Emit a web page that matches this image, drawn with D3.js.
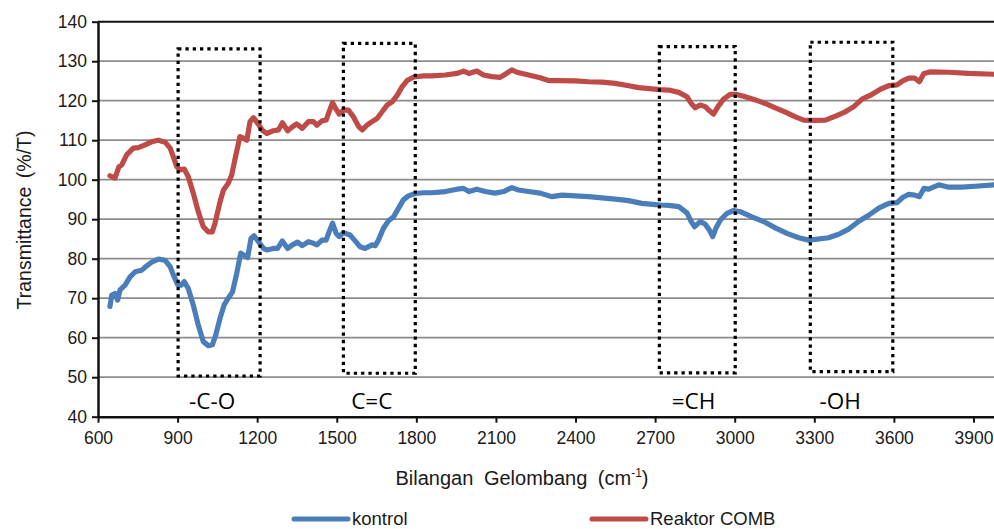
<!DOCTYPE html>
<html>
<head>
<meta charset="utf-8">
<script src="https://cdn.jsdelivr.net/npm/d3@7"></script>
<style>
  body { margin: 0; background: #fff; }
  .tick text { font-family: "Liberation Sans", Arial, sans-serif; font-size: 17.5px; fill: #1a1a1a; }
</style>
</head>
<body>
<div class="chart"></div>
<script>
// kontrol series (blue)
var kontrolWave = [645, 652, 664, 674, 683, 702, 721, 740, 765, 784, 802, 827, 853, 872, 884, 900, 913, 925, 940, 959,
  978, 997, 1016, 1031, 1044, 1060, 1076, 1091, 1107, 1123, 1138, 1152, 1164, 1177, 1188, 1205, 1224, 1236, 1261, 1277,
  1295, 1315, 1333, 1352, 1370, 1393, 1412, 1425, 1444, 1460, 1471, 1484, 1498, 1509, 1525, 1550, 1567, 1588, 1607, 1633,
  1645, 1657, 1676, 1695, 1714, 1733, 1751, 1770, 1796, 1827, 1858, 1909, 1953, 1978, 1998, 2028, 2060, 2097, 2129, 2160,
  2185, 2223, 2267, 2311, 2349, 2399, 2449, 2500, 2550, 2600, 2650, 2701, 2720, 2751, 2789, 2820, 2836, 2849, 2870, 2889,
  2904, 2917, 2929, 2946, 2971, 2996, 3021, 3065, 3109, 3153, 3197, 3241, 3279, 3304, 3354, 3392, 3430, 3468, 3505, 3543,
  3581, 3612, 3633, 3656, 3679, 3696, 3713, 3731, 3769, 3807, 3857, 3920, 3977, 4000];
var kontrolT = [67.9, 70.8, 71.2, 69.5, 72.1, 73.3, 75.4, 76.7, 77.1, 78.2, 79.1, 79.9, 79.6, 78.0, 75.9, 73.5, 73.3, 74.2, 72.5, 68.3,
  63.2, 59.0, 58.0, 58.2, 60.7, 64.9, 68.4, 70.0, 71.6, 76.3, 81.4, 80.8, 80.3, 85.2, 85.8, 84.3, 82.6, 82.2, 82.6, 82.6,
  84.5, 82.6, 83.5, 84.2, 83.3, 84.3, 83.9, 83.5, 84.7, 84.7, 86.8, 89.0, 86.4, 85.6, 86.6, 86.0, 84.7, 83.0, 82.6, 83.5,
  83.3, 84.7, 87.7, 89.6, 90.6, 92.8, 94.9, 95.9, 96.5, 96.7, 96.7, 97.0, 97.6, 97.8, 97.0, 97.6, 97.0, 96.6, 97.0, 98.0,
  97.4, 97.0, 96.6, 95.7, 96.1, 95.9, 95.7, 95.4, 95.1, 94.7, 94.0, 93.7, 93.6, 93.5, 93.2, 91.6, 89.4, 88.1, 89.4, 88.7,
  87.3, 85.6, 87.7, 89.8, 91.5, 92.2, 91.9, 90.6, 89.4, 87.8, 86.4, 85.3, 84.7, 84.9, 85.3, 86.2, 87.5, 89.5, 91.0, 92.8,
  94.0, 94.2, 95.5, 96.3, 96.1, 95.7, 97.8, 97.6, 98.7, 98.1, 98.1, 98.4, 98.7, 98.6];

// Reaktor COMB series (red)
var reaktorWave = [645, 664, 679, 689, 708, 733, 752, 777, 802, 827, 853, 872, 884, 897, 909, 925, 940, 959, 978, 997,
  1016, 1031, 1041, 1060, 1073, 1091, 1104, 1117, 1135, 1148, 1161, 1173, 1186, 1205, 1220, 1236, 1261, 1280, 1295, 1315,
  1333, 1349, 1370, 1393, 1412, 1425, 1444, 1460, 1469, 1484, 1498, 1509, 1525, 1544, 1563, 1583, 1596, 1614, 1633, 1652,
  1671, 1690, 1709, 1728, 1746, 1765, 1790, 1827, 1858, 1909, 1953, 1978, 1998, 2028, 2053, 2085, 2116, 2135, 2160, 2179,
  2223, 2267, 2298, 2336, 2399, 2449, 2500, 2550, 2600, 2638, 2688, 2720, 2751, 2789, 2820, 2836, 2851, 2870, 2889, 2904,
  2920, 2937, 2958, 2983, 3008, 3040, 3078, 3115, 3153, 3191, 3229, 3260, 3300, 3342, 3380, 3417, 3449, 3480, 3512, 3549,
  3581, 3612, 3633, 3656, 3679, 3696, 3713, 3738, 3807, 3882, 3977, 4000];
var reaktorT = [101.0, 100.4, 103.3, 103.7, 106.3, 108.0, 108.1, 108.8, 109.6, 110.0, 109.5, 108.0, 105.8, 103.3, 102.5, 102.7, 100.8, 96.6, 91.9, 88.1,
  86.8, 86.8, 89.0, 94.4, 97.4, 99.1, 101.2, 105.4, 110.9, 110.5, 110.0, 114.7, 115.7, 114.0, 112.5, 111.7, 112.4, 112.6, 114.4, 112.4,
  113.4, 114.1, 113.0, 114.7, 114.7, 113.8, 114.9, 115.1, 116.8, 119.5, 117.8, 116.6, 117.6, 117.6, 115.9, 113.4, 112.6, 113.8, 114.7, 115.5,
  117.2, 118.9, 119.7, 121.4, 123.5, 125.1, 126.0, 126.3, 126.3, 126.5, 126.9, 127.5, 126.9, 127.5, 126.5, 126.1, 125.9, 126.7, 127.8, 127.2,
  126.5, 125.8, 125.1, 125.1, 125.0, 124.8, 124.7, 124.4, 123.8, 123.3, 123.0, 122.8, 122.7, 122.1, 121.0, 119.3, 118.2, 118.9, 118.5, 117.5,
  116.6, 118.5, 120.4, 121.6, 121.6, 121.0, 120.2, 119.3, 118.2, 117.1, 115.9, 115.1, 115.0, 115.1, 116.1, 117.2, 118.5, 120.4, 121.4, 122.9,
  123.8, 124.0, 125.0, 125.7, 125.7, 124.8, 126.9, 127.3, 127.2, 126.9, 126.7, 126.7];

// functional group regions (dotted boxes)
var groupLabels = ["-C-O", "C=C", "=CH", "-OH"];
var groupX0 = [902, 1525, 2716, 3285];
var groupX1 = [1211, 1796, 3002, 3596];
var groupTop = [133.1, 134.5, 133.7, 134.8];
var groupBottom = [50.3, 51.0, 51.1, 51.4];
var groupLabelX = [1030, 1632, 2845, 3398];

var xTicks = [600, 900, 1200, 1500, 1800, 2100, 2400, 2700, 3000, 3300, 3600, 3900];
var yTicks = [40, 50, 60, 70, 80, 90, 100, 110, 120, 130, 140];

var seriesNames = ["kontrol", "Reaktor COMB"];
var seriesColors = ["#4a7ebb", "#be4b48"];

var W = 994, H = 529;
var margin = {top: 21.7, right: 0, bottom: 112.3, left: 98};
var width = 902, height = H - margin.top - margin.bottom;

var xScale = d3.scaleLinear().domain([600, 4000]).range([0, width]);
var yScale = d3.scaleLinear().domain([40, 140]).range([height, 0]);

var root = d3.select(".chart").append("svg")
    .attr("width", W)
    .attr("height", H)
    .style("display", "block");

var svg = root.append("g")
    .attr("transform", "translate(" + margin.left + "," + margin.top + ")");

// gridlines
svg.append("g")
  .selectAll("line")
  .data(yTicks.filter(function(d) { return d > 40 && d < 140; }))
  .enter().append("line")
    .attr("x1", 0).attr("x2", width)
    .attr("y1", function(d) { return yScale(d); })
    .attr("y2", function(d) { return yScale(d); })
    .style("stroke", "#8c8c8c")
    .style("stroke-width", 1.8);

// top border
svg.append("line")
    .attr("x1", 0).attr("x2", width)
    .attr("y1", yScale(140)).attr("y2", yScale(140))
    .style("stroke", "#111").style("stroke-width", 2);

// x axis
var xAxis = svg.append("g")
    .attr("transform", "translate(0," + height + ")")
    .call(d3.axisBottom(xScale).tickValues(xTicks).tickSize(6).tickSizeOuter(0).tickFormat(d3.format("d")));
xAxis.select(".domain").style("stroke", "#111").style("stroke-width", 2.5);
xAxis.selectAll(".tick line").style("stroke", "#111").style("stroke-width", 2);
xAxis.selectAll(".tick text").attr("dy", "1.05em").attr("y", 9);

// y axis
var yAxis = svg.append("g")
    .call(d3.axisLeft(yScale).tickValues(yTicks).tickSize(6).tickSizeOuter(0));
yAxis.select(".domain").style("stroke", "#111").style("stroke-width", 2.5);
yAxis.selectAll(".tick line").style("stroke", "#111").style("stroke-width", 2);
yAxis.selectAll(".tick text").attr("x", -11);

// axis titles
var xTitle = root.append("text")
    .attr("x", 522)
    .attr("y", 485)
    .attr("text-anchor", "middle")
    .style("font-family", "Liberation Sans, Arial, sans-serif")
    .style("font-size", "20px")
    .style("word-spacing", "5px")
    .style("fill", "#1a1a1a");
xTitle.append("tspan").text("Bilangan Gelombang (cm");
xTitle.append("tspan").attr("dy", -8).style("font-size", "12px").text("-1");
xTitle.append("tspan").attr("dy", 8).text(")");

root.append("text")
    .attr("transform", "translate(31,220) rotate(-90)")
    .attr("text-anchor", "middle")
    .style("font-family", "Liberation Sans, Arial, sans-serif")
    .style("font-size", "19.5px")
    .style("word-spacing", "3px")
    .style("fill", "#1a1a1a")
    .text("Transmittance (%/T)");

// series lines
var line = d3.line()
    .x(function(d) { return xScale(d[0]); })
    .y(function(d) { return yScale(d[1]); });

var series = [d3.zip(kontrolWave, kontrolT), d3.zip(reaktorWave, reaktorT)];

svg.append("clipPath").attr("id", "plotclip")
  .append("rect").attr("x", 0).attr("y", -5).attr("width", width).attr("height", height + 10);

svg.append("g").attr("clip-path", "url(#plotclip)")
  .selectAll("path")
  .data(series)
  .enter().append("path")
    .attr("d", line)
    .style("fill", "none")
    .style("stroke", function(d, i) { return seriesColors[i]; })
    .style("stroke-width", 5.2)
    .style("stroke-linejoin", "round")
    .style("stroke-linecap", "round");

// dotted boxes + labels
var groups = groupLabels.map(function(lbl, i) {
  return {label: lbl, x0: groupX0[i], x1: groupX1[i], top: groupTop[i], bottom: groupBottom[i], lx: groupLabelX[i]};
});

svg.selectAll(".groupbox")
  .data(groups)
  .enter().append("rect")
    .attr("class", "groupbox")
    .attr("x", function(d) { return xScale(d.x0); })
    .attr("y", function(d) { return yScale(d.top); })
    .attr("width", function(d) { return xScale(d.x1) - xScale(d.x0); })
    .attr("height", function(d) { return yScale(d.bottom) - yScale(d.top); })
    .style("fill", "none")
    .style("stroke", "#000")
    .style("stroke-width", 3.2)
    .style("stroke-dasharray", "3.3 4");

svg.selectAll(".grouplabel")
  .data(groups)
  .enter().append("text")
    .attr("class", "grouplabel")
    .attr("x", function(d) { return xScale(d.lx); })
    .attr("y", yScale(44) + 8)
    .attr("text-anchor", "middle")
    .style("font-family", "Open Sans, sans-serif")
    .style("font-size", "22.5px")
    .style("fill", "#000")
    .text(function(d) { return d.label; });

// legend
var legendX = [294, 592];
var legend = root.selectAll(".legend")
  .data(seriesNames)
  .enter().append("g")
    .attr("class", "legend")
    .attr("transform", function(d, i) { return "translate(" + legendX[i] + ",519)"; });
legend.append("line")
    .attr("x1", 0).attr("x2", 54)
    .style("stroke", function(d, i) { return seriesColors[i]; })
    .style("stroke-width", 5)
    .style("stroke-linecap", "round");
legend.append("text")
    .attr("x", 58)
    .attr("dy", "0.35em")
    .style("font-family", "Liberation Sans, Arial, sans-serif")
    .style("font-size", "18.5px")
    .style("fill", "#1a1a1a")
    .text(function(d) { return d; });
</script>
</body>
</html>
